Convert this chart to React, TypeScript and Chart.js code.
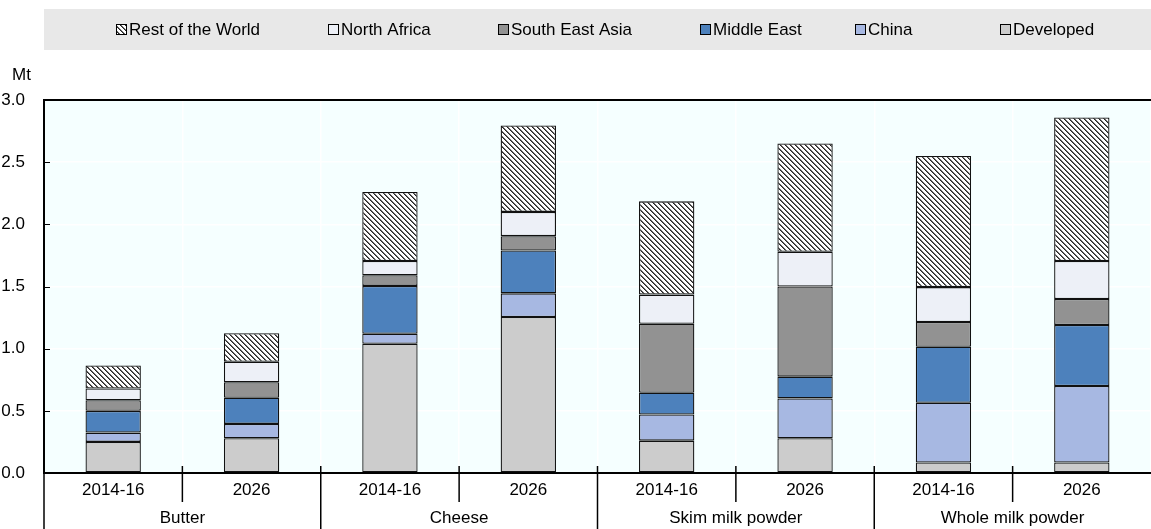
import { useEffect, useRef } from 'react';
import { Chart, registerables } from 'chart.js';

Chart.register(...registerables);

// Time periods shown under each bar, and the product groups they belong to
const periods = ['2014-16', '2026', '2014-16', '2026', '2014-16', '2026', '2014-16', '2026'];
const products = ['Butter', 'Cheese', 'Skim milk powder', 'Whole milk powder'];

// Import volumes by region (Mt), one value per bar
const developed = [0.25, 0.28, 1.04, 1.255, 0.26, 0.28, 0.085, 0.085];
const china = [0.075, 0.115, 0.08, 0.19, 0.21, 0.32, 0.48, 0.615];
const middleEast = [0.175, 0.21, 0.385, 0.345, 0.175, 0.175, 0.45, 0.49];
const southEastAsia = [0.085, 0.125, 0.085, 0.115, 0.555, 0.725, 0.2, 0.21];
const northAfrica = [0.095, 0.165, 0.115, 0.195, 0.235, 0.28, 0.28, 0.305];
const restOfWorld = [0.185, 0.23, 0.555, 0.695, 0.75, 0.87, 1.055, 1.155];

const yTicks = [0, 0.5, 1, 1.5, 2, 2.5, 3];

const FONT = '"Liberation Sans", Arial, Helvetica, sans-serif';
const FONT_SIZE = 17;
const W = 1151;
const H = 529;

function makeHatch(): CanvasPattern | string {
  const n = 5;
  const c = document.createElement('canvas');
  c.width = n;
  c.height = n;
  const g = c.getContext('2d');
  if (!g) return '#888';
  g.fillStyle = '#ffffff';
  g.fillRect(0, 0, n, n);
  for (let i = 0; i < n; i++) {
    g.fillStyle = '#262626';
    g.fillRect(i, i, 1, 1);
    g.fillStyle = '#6e6e6e';
    g.fillRect((i + 1) % n, i, 1, 1);
  }
  const p = g.createPattern(c, 'repeat');
  return p || '#888';
}

export default function App() {
  const ref = useRef<HTMLCanvasElement | null>(null);

  useEffect(() => {
    const canvas = ref.current;
    if (!canvas) return;
    const hatch = makeHatch();

    const series = [
      { label: 'Developed', data: developed, color: '#cccccc' },
      { label: 'China', data: china, color: '#a7b8e2' },
      { label: 'Middle East', data: middleEast, color: '#4d81bc' },
      { label: 'South East Asia', data: southEastAsia, color: '#929292' },
      { label: 'North Africa', data: northAfrica, color: '#edf0f7' },
      { label: 'Rest of the World', data: restOfWorld, color: hatch },
    ];

    // legend order runs from the top of the stack down
    const legendOrder = [5, 4, 3, 2, 1, 0];
    const legendX = [116, 328, 498, 700, 855, 1000];

    const decor = {
      id: 'decor',
      beforeDraw(chart: any) {
        const ctx = chart.ctx;
        const a = chart.chartArea;
        ctx.save();
        ctx.fillStyle = '#ffffff';
        ctx.fillRect(0, 0, W, H);
        // legend band
        ctx.fillStyle = '#e8e8e8';
        ctx.fillRect(a.left, 9, W - a.left, 41);
        // plot background
        ctx.fillStyle = '#f5ffff';
        ctx.fillRect(a.left, a.top, a.right - a.left, a.bottom - a.top);
        ctx.restore();
      },
      afterDraw(chart: any) {
        const ctx = chart.ctx;
        const a = chart.chartArea;
        const x = chart.scales.x;
        const y = chart.scales.y;
        ctx.save();
        ctx.font = `${FONT_SIZE}px ${FONT}`;
        ctx.fillStyle = '#000';
        ctx.textBaseline = 'middle';

        // legend
        legendOrder.forEach((idx, k) => {
          const s = series[idx];
          const bx = legendX[k];
          ctx.fillStyle = s.color as any;
          ctx.fillRect(bx, 24, 10, 10);
          ctx.strokeStyle = '#000';
          ctx.lineWidth = 1;
          ctx.strokeRect(bx + 0.5, 24.5, 10, 10);
          ctx.fillStyle = '#000';
          ctx.textAlign = 'left';
          ctx.fillText(s.label, bx + 13, 30);
        });

        // unit label
        ctx.textAlign = 'left';
        ctx.fillText('Mt', 12, 75);

        // inward tick marks on the value axis
        ctx.strokeStyle = '#000';
        ctx.lineWidth = 1;
        yTicks.forEach((v) => {
          const py = Math.round(y.getPixelForValue(v)) + 0.5;
          ctx.beginPath();
          ctx.moveTo(a.left, py);
          ctx.lineTo(a.left + 6, py);
          ctx.stroke();
        });

        // separators between bars and product groups
        ctx.lineWidth = 1.5;
        ctx.beginPath();
        ctx.moveTo(a.left, a.bottom);
        ctx.lineTo(a.left, H);
        ctx.stroke();
        for (let i = 0; i < periods.length - 1; i++) {
          const sx = (x.getPixelForValue(i) + x.getPixelForValue(i + 1)) / 2;
          const groupEdge = i % 2 === 1;
          ctx.beginPath();
          ctx.moveTo(sx, a.bottom - 7);
          ctx.lineTo(sx, groupEdge ? H : a.bottom + 29);
          ctx.stroke();
        }

        // product group names
        ctx.textAlign = 'center';
        products.forEach((p, g) => {
          const cx = (x.getPixelForValue(2 * g) + x.getPixelForValue(2 * g + 1)) / 2;
          ctx.fillText(p, cx, 518);
        });
        ctx.restore();
      },
    };

    const chart = new Chart(canvas, {
      type: 'bar',
      data: {
        labels: periods,
        datasets: series.map((s) => ({
          label: s.label,
          data: s.data,
          backgroundColor: s.color as any,
          borderColor: '#111111',
          borderWidth: 1.3,
          borderSkipped: false,
          barPercentage: 0.4,
          categoryPercentage: 1,
        })),
      },
      options: {
        responsive: false,
        animation: false,
        devicePixelRatio: 1,
        layout: { padding: { top: 100, right: 0, left: 0, bottom: 0 } },
        plugins: {
          legend: { display: false },
          tooltip: { enabled: false },
          title: { display: false },
        },
        scales: {
          x: {
            stacked: true,
            offset: true,
            grid: { color: '#ffffff', lineWidth: 1.5, drawTicks: false, offset: true },
            border: { display: true, color: '#000', width: 2 },
            ticks: { color: '#000', font: { family: FONT, size: FONT_SIZE }, padding: 7, maxRotation: 0, autoSkip: false },
            afterFit(scale: any) {
              scale.height = 56;
            },
          },
          y: {
            stacked: true,
            min: 0,
            max: 3,
            grid: {
              color: (c: any) => (c.tick && c.tick.value === 3 ? '#000' : '#ffffff'),
              lineWidth: (c: any) => (c.tick && c.tick.value === 3 ? 2 : 1.5),
              drawTicks: false,
            },
            border: { display: true, color: '#000', width: 2 },
            ticks: {
              stepSize: 0.5,
              color: '#000',
              font: { family: FONT, size: FONT_SIZE },
              padding: 19,
              callback: (v: any) => Number(v).toFixed(1),
            },
            afterFit(scale: any) {
              scale.width = 44;
            },
          },
        },
      },
      plugins: [decor],
    });

    return () => chart.destroy();
  }, []);

  return (
    <div style={{ position: 'absolute', left: 0, top: 0, width: W, height: H }}>
      <canvas ref={ref} width={W} height={H} style={{ display: 'block', width: W, height: H }} />
    </div>
  );
}
